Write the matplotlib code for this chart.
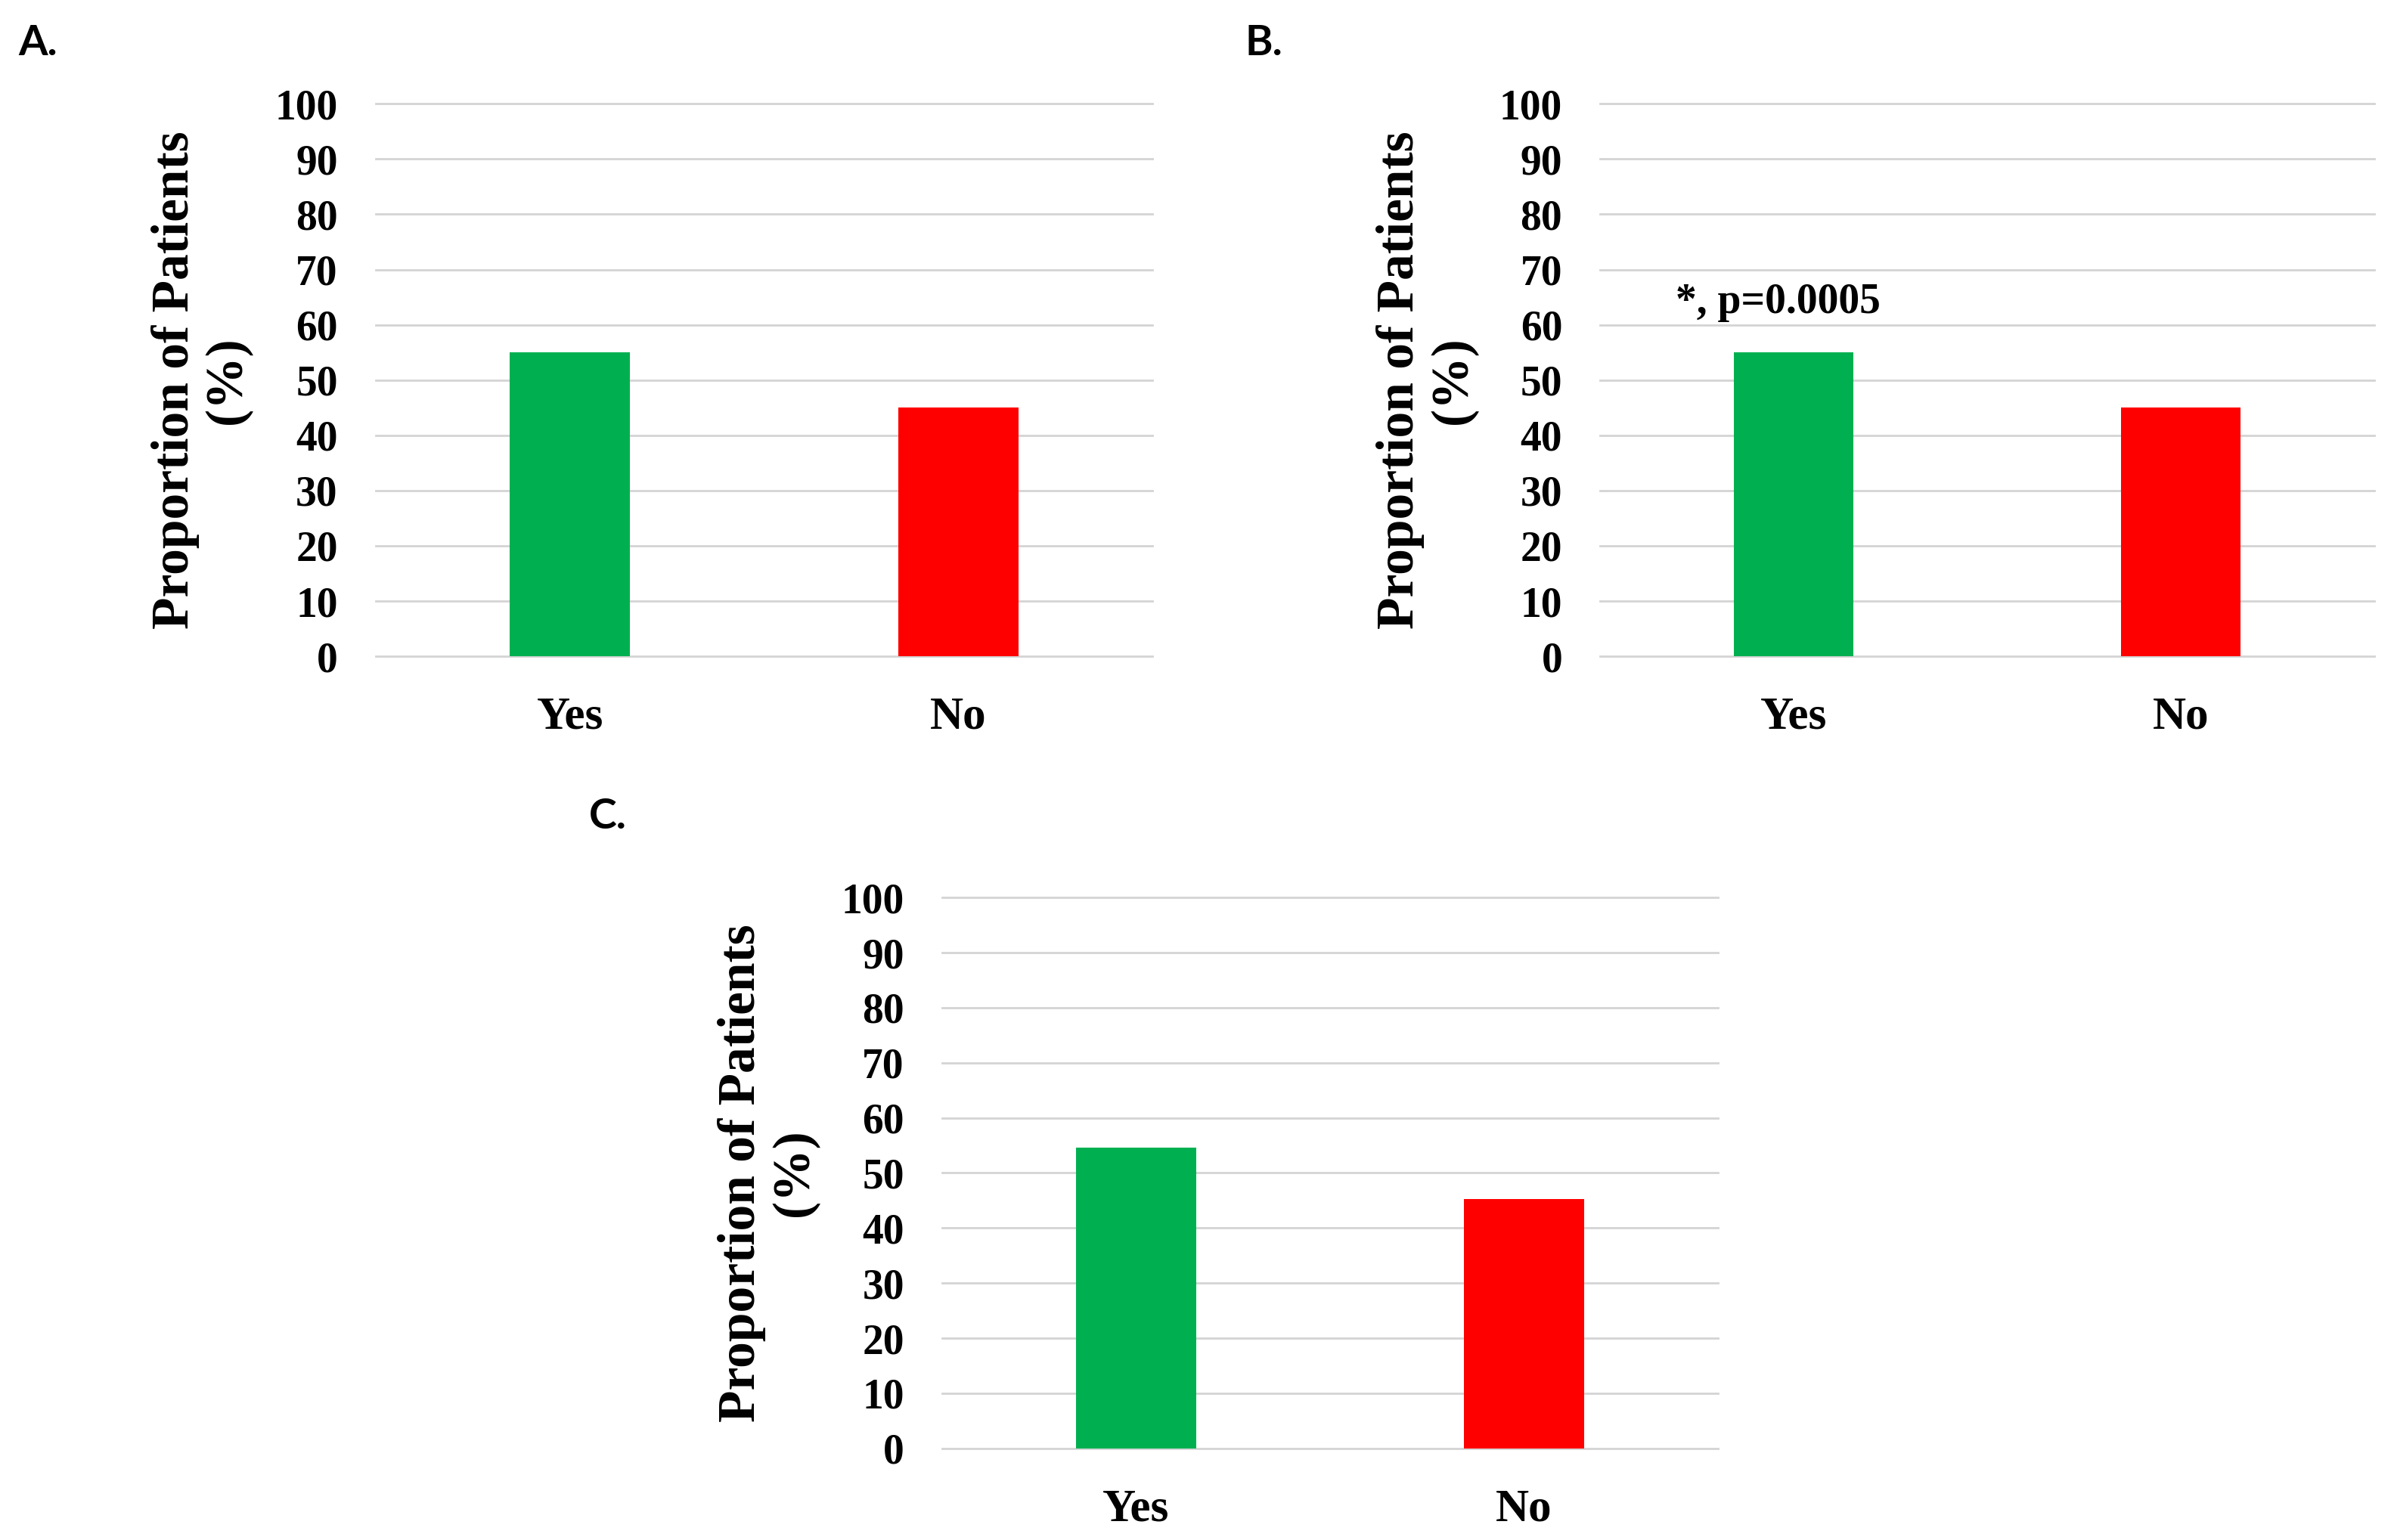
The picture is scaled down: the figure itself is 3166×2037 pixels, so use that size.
import matplotlib.pyplot as plt
import numpy as np

# data
categories = ["Yes", "No"]
panel_labels = ["A.", "B.", "C."]
values_a = [55.0, 45.0]
values_b = [55.0, 45.0]
values_c = [54.6, 45.2]
annot_b = "*, p=0.0005"
y_ticks = list(range(0, 101, 10))
bar_colors = ["#00B050", "#FF0000"]

SERIF = "Liberation Serif"
GRID = "#d4d4d4"


def draw_panel(ax, values, annotation=None):
    x = np.arange(len(categories))
    ax.bar(x, values, width=0.31, color=bar_colors, zorder=3)
    ax.set_xlim(-0.5, len(categories) - 0.5)
    ax.set_ylim(0, 100)
    ax.set_yticks(y_ticks)
    ax.set_xticks(x)
    ax.set_xticklabels(categories)
    for s in ["top", "right", "left", "bottom"]:
        ax.spines[s].set_visible(False)
    ax.grid(axis="y", color=GRID, linewidth=1.0, zorder=0)
    for line in ax.get_ygridlines():
        line.set_clip_on(False)
    ax.set_axisbelow(True)
    ax.tick_params(axis="both", length=0)
    ax.tick_params(axis="y", pad=18, labelsize=20)
    ax.tick_params(axis="x", pad=19, labelsize=22)
    for lab in ax.get_xticklabels() + ax.get_yticklabels():
        lab.set_fontfamily(SERIF)
        lab.set_fontweight("bold")
    ax.text(-0.224, 0.5, "Proportion of Patients\n(%)", transform=ax.transAxes,
            rotation=90, ha="center", va="center", fontsize=25,
            fontfamily=SERIF, fontweight="bold", linespacing=1.12)
    if annotation:
        ax.text(x[0] - 0.04, values[0] + 9, annotation, ha="center", va="center",
                fontsize=20, fontfamily=SERIF, fontweight="bold")


fig = plt.figure(figsize=(15.83, 10.185), dpi=200)
ax_a = fig.add_axes([0.1569, 0.5738, 0.3246, 0.3588])
ax_b = fig.add_axes([0.6684, 0.5738, 0.3233, 0.3588])
ax_c = fig.add_axes([0.3935, 0.0595, 0.3240, 0.3577])

draw_panel(ax_a, values_a)
draw_panel(ax_b, values_b, annot_b)
draw_panel(ax_c, values_c)

label_pos = [(0.0077, 0.972), (0.520, 0.972), (0.246, 0.470)]
for lab, (px, py) in zip(panel_labels, label_pos):
    fig.text(px, py, lab, ha="left", va="center", fontsize=20,
             fontfamily="Lato", fontweight="bold")

fig.savefig("out.png", dpi=200)
